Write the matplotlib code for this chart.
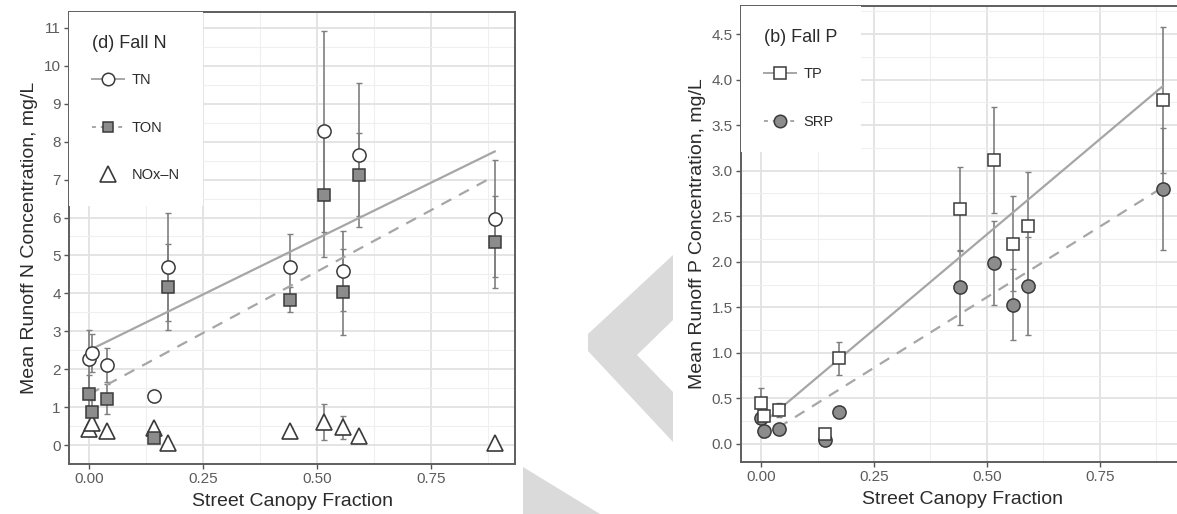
import numpy as np
import matplotlib
matplotlib.use("Agg")
import matplotlib.pyplot as plt
from matplotlib.lines import Line2D
from matplotlib.patches import Polygon
from matplotlib.ticker import MultipleLocator

plt.rcParams['font.family'] = ['Liberation Sans', 'DejaVu Sans']

# street canopy fraction for the ten sites
canopy = [0.0, 0.007, 0.04, 0.142, 0.172, 0.44, 0.516, 0.558, 0.591, 0.89]

# (d) Fall N
tn = [2.27, 2.42, 2.12, 1.29, 4.70, 4.70, 8.27, 4.59, 7.65, 5.97]
tn_err = [0.76, 0.5, 0.45, 0.0, 1.42, 0.87, 2.64, 1.06, 1.9, 1.55]
ton = [1.35, 0.88, 1.22, 0.19, 4.17, 3.83, 6.60, 4.04, 7.13, 5.36]
ton_err = [0.5, 0.3, 0.4, 0.0, 1.14, 0.33, 1.64, 1.14, 1.1, 1.22]
nox = [0.43, 0.58, 0.37, 0.44, 0.05, 0.36, 0.60, 0.47, 0.23, 0.06]
nox_err = [0.1, 0.1, 0.05, 0.0, 0.0, 0.1, 0.47, 0.3, 0.1, 0.0]

# (b) Fall P
tp = [0.45, 0.30, 0.37, 0.11, 0.94, 2.58, 3.12, 2.20, 2.39, 3.78]
tp_err = [0.16, 0.05, 0.08, 0.0, 0.18, 0.46, 0.58, 0.52, 0.6, 0.8]
srp = [0.28, 0.14, 0.16, 0.04, 0.35, 1.72, 1.99, 1.53, 1.73, 2.80]
srp_err = [0.05, 0.05, 0.03, 0.0, 0.0, 0.41, 0.46, 0.39, 0.54, 0.67]

# linear fits: (intercept, slope)
tn_fit = (2.50, 5.89)
ton_fit = (1.34, 6.47)
tp_fit = (0.21, 4.18)
srp_fit = (0.06, 3.10)

W, H = 1177, 514
EDGE = '#3a3a3a'
FILL = '#8c8c8c'
LINE = '#a6a6a6'
ERR = '#7f7f7f'
TXT = '#2b2b2b'
TICK = '#555555'

fig = plt.figure(figsize=(W / 100, H / 100), dpi=100)


def px(x, y):
    return (x / W, 1 - y / H)


# light grey watermark shapes behind everything
chev = [(673, 255), (588, 334), (588, 351), (673, 442), (673, 392), (637, 355), (673, 320)]
fig.add_artist(Polygon([px(*p) for p in chev], closed=True, transform=fig.transFigure,
                       facecolor='#dadada', edgecolor='none', zorder=-5))
wedge = [(523, 467), (523, 514), (600, 514)]
fig.add_artist(Polygon([px(*p) for p in wedge], closed=True, transform=fig.transFigure,
                       facecolor='#dadada', edgecolor='none', zorder=-5))

axL = fig.add_axes([69 / W, 1 - 464 / H, (515 - 69) / W, (464 - 12) / H])
axR = fig.add_axes([741 / W, 1 - 462 / H, (1183 - 741) / W, (462 - 6) / H])
for a in (axL, axR):
    a.patch.set_alpha(0)


def style(ax, ymaj, ymin):
    ax.set_xlim(-0.0445, 0.9345)
    ax.xaxis.set_major_locator(MultipleLocator(0.25))
    ax.xaxis.set_minor_locator(MultipleLocator(0.125))
    ax.yaxis.set_major_locator(MultipleLocator(ymaj))
    ax.yaxis.set_minor_locator(MultipleLocator(ymin))
    ax.grid(True, which='major', color='#e2e2e2', lw=1.3, zorder=0)
    ax.grid(True, which='minor', color='#efefef', lw=0.8, zorder=0)
    ax.set_axisbelow(True)
    for s in ax.spines.values():
        s.set_color('#5e5e5e')
        s.set_linewidth(1.4)
    ax.tick_params(which='major', length=3.5, width=1, color=TICK, labelcolor='#5c5c5c',
                   labelsize=11, pad=2.5)
    ax.tick_params(which='minor', length=0)
    ax.set_xlabel('Street Canopy Fraction', fontsize=14, color=TXT, labelpad=5)


def errs(ax, y, e):
    xs = [x for x, v in zip(canopy, e) if v > 0]
    ys = [a for a, v in zip(y, e) if v > 0]
    es = [v for v in e if v > 0]
    ax.errorbar(xs, ys, yerr=es, fmt='none', ecolor=ERR, elinewidth=1.2, capsize=2,
                capthick=1, zorder=2)


def fit(ax, p, ls):
    xx = np.array([min(canopy), max(canopy)])
    ax.plot(xx, p[0] + p[1] * xx, color=LINE, lw=1.6, ls=ls, zorder=3,
            dashes=(5, 4) if ls == '--' else (None, None))


def legend(ax, handles, labels, title):
    leg = ax.legend(handles, labels, title=title, loc='upper left',
                    borderaxespad=0, borderpad=1.6, labelspacing=2.3, handlelength=2.2,
                    handletextpad=0.5, fontsize=10.5, title_fontsize=13,
                    frameon=True, facecolor='white', edgecolor='none', fancybox=False,
                    framealpha=1)
    leg._legend_box.align = 'left'
    leg._legend_box.sep = 15   # tighter gap between title and first key
    leg.get_title().set_color(TXT)
    for t in leg.get_texts():
        t.set_color(TXT)
    leg.set_zorder(10)


# ---- left panel: N ----
style(axL, 1, 0.5)
axL.set_ylim(-0.5, 11.42)
axL.set_yticks(range(0, 12))
axL.set_ylabel('Mean Runoff N Concentration, mg/L', fontsize=14, color=TXT, labelpad=4)
fit(axL, tn_fit, '-')
fit(axL, ton_fit, '--')
errs(axL, tn, tn_err)
errs(axL, ton, ton_err)
errs(axL, nox, nox_err)
axL.plot(canopy, nox, ls='none', marker='^', ms=12, mfc='white', mec=EDGE, mew=1.2, zorder=4)
axL.plot(canopy, ton, ls='none', marker='s', ms=8, mfc=FILL, mec=EDGE, mew=1.1, zorder=5)
axL.plot(canopy, tn, ls='none', marker='o', ms=9.5, mfc='white', mec=EDGE, mew=1.1, zorder=6)

hL = [Line2D([], [], color=LINE, lw=1.4, marker='o', ms=9, mfc='white', mec=EDGE, mew=1.1),
      Line2D([], [], color=LINE, lw=1.4, ls='--', dashes=(2, 2.5), marker='s', ms=7.5,
             mfc=FILL, mec=EDGE, mew=1.1),
      Line2D([], [], ls='none', marker='^', ms=11, mfc='white', mec=EDGE, mew=1.2)]
legend(axL, hL, ['TN', 'TON', 'NOx\u2013N'], '(d) Fall N')

# ---- right panel: P ----
style(axR, 0.5, 0.25)
axR.set_ylim(-0.2, 4.81)
axR.set_yticks(np.arange(0, 4.6, 0.5))
axR.set_ylabel('Mean Runoff P Concentration, mg/L', fontsize=14, color=TXT, labelpad=4)
fit(axR, tp_fit, '-')
fit(axR, srp_fit, '--')
errs(axR, tp, tp_err)
errs(axR, srp, srp_err)
axR.plot(canopy, srp, ls='none', marker='o', ms=9.5, mfc=FILL, mec=EDGE, mew=1.1, zorder=4)
axR.plot(canopy, tp, ls='none', marker='s', ms=8.5, mfc='white', mec=EDGE, mew=1.1, zorder=5)

hR = [Line2D([], [], color=LINE, lw=1.4, marker='s', ms=8, mfc='white', mec=EDGE, mew=1.1),
      Line2D([], [], color=LINE, lw=1.4, ls='--', dashes=(2, 2.5), marker='o', ms=9,
             mfc=FILL, mec=EDGE, mew=1.1)]
legend(axR, hR, ['TP', 'SRP'], '(b) Fall P')

fig.savefig('out.png', dpi=100)
